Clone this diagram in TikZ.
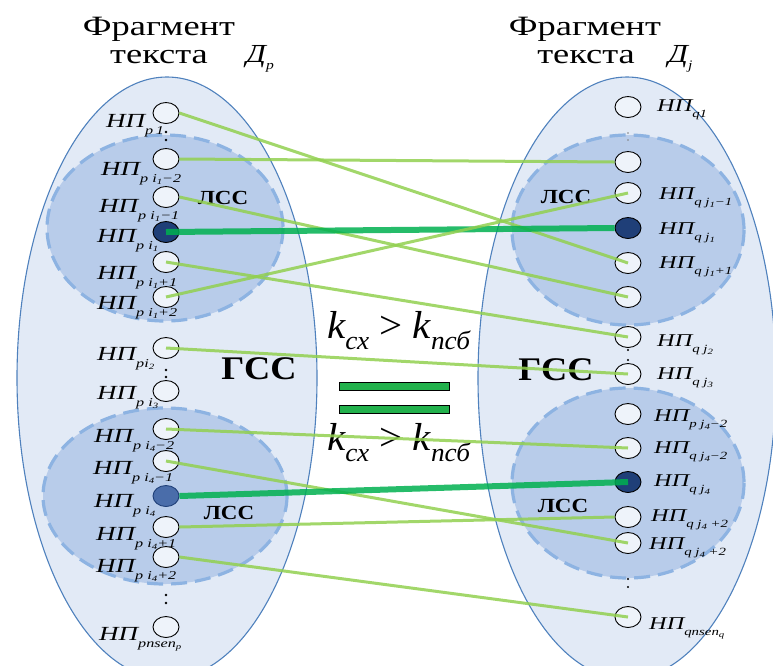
\documentclass[tikz,border=0pt]{standalone}
\usepackage{fontspec}
\usepackage{graphicx}
\setmainfont{Liberation Serif}
\usetikzlibrary{shapes.geometric}
\definecolor{outerfill}{HTML}{E2EAF6}
\definecolor{outerline}{HTML}{4F81BD}
\definecolor{lssfill}{HTML}{B8CCEA}
\definecolor{lssline}{HTML}{8DB3E2}
\definecolor{nodefill}{HTML}{EEF3FA}
\definecolor{darknode}{HTML}{1F3F78}
\definecolor{midnode}{HTML}{4A6DAA}
\definecolor{lightgreen}{HTML}{92D050}
\definecolor{darkgreen}{HTML}{00B050}
\definecolor{barfill}{HTML}{22B14C}
\newcommand\hsc[2]{\scalebox{#1}[1]{#2}}
\newcommand\fs[1]{\fontsize{#1}{#1}\selectfont}
\newcommand\dg[1]{\raisebox{-0.2em}{\fs{8}#1}}
\newcommand\lnp[1]{\hsc{1.35}{\fs{20}\itshape НП\raisebox{-0.35em}{\fs{12}#1}}}
\newcommand\rnp[1]{\hsc{1.35}{\fs{18}\itshape НП\raisebox{-0.35em}{\fs{11}#1}}}
\tikzset{
  outer/.style={fill=outerfill,draw=outerline,line width=1.1pt},
  lss/.style={fill=lssfill,draw=lssline,line width=3.2pt,dash pattern=on 16pt off 8pt},
  np/.style={ellipse,draw=black,line width=0.9pt,fill=nodefill,minimum width=26pt,minimum height=21pt,inner sep=0pt},
  npdark/.style={np,fill=darknode},
  npmid/.style={np,fill=midnode,draw=darknode},
  lab/.style={anchor=base west,inner sep=0pt},
  link/.style={draw=lightgreen,line width=3pt,opacity=0.85},
  strong/.style={draw=darkgreen,line width=6pt,opacity=0.85},
  gss/.style={font=\fs{33}\bfseries,inner sep=0pt},
  lsslab/.style={font=\fs{20}\bfseries,inner sep=0pt},
  bar/.style={rectangle,draw=black,line width=0.6pt,fill=barfill,minimum width=110pt,minimum height=8pt,inner sep=0pt},
  ttl/.style={anchor=base,inner sep=0pt},
  dotc/.style={fill=black},
}
\begin{document}
\begin{tikzpicture}[x=1pt,y=-1pt]
\useasboundingbox (0,0) rectangle (773,665);
\clip (0,0) rectangle (773,665);
% outer ellipses
\draw[outer] (167,378) ellipse [x radius=150, y radius=301];
\draw[outer] (627,378) ellipse [x radius=149, y radius=301];
% LSS regions
\draw[lss] (165,228) ellipse [x radius=118, y radius=93];
\draw[lss] (165,496) ellipse [x radius=122, y radius=88];
\draw[lss] (628,230) ellipse [x radius=116, y radius=95];
\draw[lss] (628,483) ellipse [x radius=116, y radius=95];
% titles
\node[ttl] (t1a) at (159,35) {\hsc{1.3}{\fs{28}Фрагмент}};
\node[ttl] (t1b) at (159,63) {\hsc{1.3}{\fs{28}текста}};
\node[ttl] (t2a) at (585,35) {\hsc{1.3}{\fs{28}Фрагмент}};
\node[ttl] (t2b) at (586,63) {\hsc{1.3}{\fs{28}текста}};
\node[lab] (dp) at (246,62) {\hsc{1.2}{\fs{26}\itshape Д\raisebox{-0.3em}{\fs{13}p}}};
\node[lab] (dj) at (668,62) {\hsc{1.2}{\fs{26}\itshape Д\raisebox{-0.3em}{\fs{13}j}}};
% GSS / LSS labels
\node[gss] (g1) at (259,369) {\hsc{1.1}{ГСС}};
\node[gss] (g2) at (556,370) {\hsc{1.1}{ГСС}};
\node[lsslab] (l1) at (223,198) {\hsc{1.15}{ЛСС}};
\node[lsslab] (l2) at (229,513) {\hsc{1.15}{ЛСС}};
\node[lsslab] (l3) at (566,197) {\hsc{1.15}{ЛСС}};
\node[lsslab] (l4) at (563,506) {\hsc{1.15}{ЛСС}};
% formula
\node[lab] (f1) at (327,338) {\hsc{1.05}{\fs{39}\itshape k\raisebox{-0.3em}{\fs{26}сх} \upshape> \itshape k\raisebox{-0.3em}{\fs{26}псб}}};
\node[lab] (f2) at (327,450) {\hsc{1.05}{\fs{39}\itshape k\raisebox{-0.3em}{\fs{26}сх} \upshape> \itshape k\raisebox{-0.3em}{\fs{26}псб}}};
\node[bar] (bar1) at (394,386) {};
\node[bar] (bar2) at (394,409) {};
% left labels
\node[lab] (a1) at (106,127) {\lnp{p\,1}};
\node[lab] (a2) at (101,175) {\lnp{p i\dg{1}−2}};
\node[lab] (a3) at (99,212) {\lnp{p i\dg{1}−1}};
\node[lab] (a4) at (97,242) {\lnp{p i\dg{1}}};
\node[lab] (a5) at (97,279) {\lnp{p i\dg{1}+1}};
\node[lab] (a6) at (97,309) {\lnp{p i\dg{1}+2}};
\node[lab] (a7) at (97,360) {\lnp{pi\dg{2}}};
\node[lab] (a8) at (97,399) {\lnp{p i\dg{3}}};
\node[lab] (a9) at (94,442) {\lnp{p i\dg{4}−2}};
\node[lab] (a10) at (93,474) {\lnp{p i\dg{4}−1}};
\node[lab] (a11) at (94,507) {\lnp{p i\dg{4}}};
\node[lab] (a12) at (96,540) {\lnp{p i\dg{4}+1}};
\node[lab] (a13) at (96,572) {\lnp{p i\dg{4}+2}};
\node[lab] (a14) at (99,640) {\lnp{pnsen\dg{p}}};
% right labels
\node[lab] (b1) at (657,111) {\rnp{q1}};
\node[lab] (b3) at (659,199) {\rnp{q j\dg{1}−1}};
\node[lab] (b4) at (659,234) {\rnp{q j\dg{1}}};
\node[lab] (b5) at (659,268) {\rnp{q j\dg{1}+1}};
\node[lab] (b7) at (657,346) {\rnp{q j\dg{2}}};
\node[lab] (b8) at (657,379) {\rnp{q j\dg{3}}};
\node[lab] (b9) at (654,421) {\rnp{p j\dg{4}−2}};
\node[lab] (b10) at (654,453) {\rnp{q j\dg{4}−2}};
\node[lab] (b11) at (654,486) {\rnp{q j\dg{4}}};
\node[lab] (b12) at (651,521) {\rnp{q j\dg{4} +2}};
\node[lab] (b13) at (649,549) {\rnp{q j\dg{4} +2}};
\node[lab] (b14) at (649,629) {\rnp{qnsen\dg{q}}};
% left circles
\node[np] (L1) at (166,113) {};
\node[np] (L2) at (166,159) {};
\node[np] (L3) at (166,197) {};
\node[npdark] (L4) at (166,232) {};
\node[np] (L5) at (166,262) {};
\node[np] (L6) at (166,297) {};
\node[np] (L7) at (166,348) {};
\node[np] (L8) at (166,391) {};
\node[np] (L9) at (166,429) {};
\node[np] (L10) at (166,461) {};
\node[npmid] (L11) at (166,496) {};
\node[np] (L12) at (166,527) {};
\node[np] (L13) at (166,557) {};
\node[np] (L14) at (166,627) {};
% right circles
\node[np] (R1) at (628,107) {};
\node[np] (R2) at (628,162) {};
\node[np] (R3) at (628,193) {};
\node[npdark] (R4) at (628,228) {};
\node[np] (R5) at (628,263) {};
\node[np] (R6) at (628,297) {};
\node[np] (R7) at (628,337) {};
\node[np] (R8) at (628,374) {};
\node[np] (R9) at (628,414) {};
\node[np] (R10) at (628,448) {};
\node[npdark] (R11) at (628,482) {};
\node[np] (R12) at (628,517) {};
\node[np] (R13) at (628,543) {};
\node[np] (R14) at (628,617) {};
% vertical dots
\foreach \y in {132,140,370,377,595,603} \fill[dotc] (166,\y) circle (1.3);
\foreach \y in {350,360,579,587} \fill[dotc] (628,\y) circle (1.1);
\foreach \y in {133,140} \fill[gray] (628,\y) circle (0.9);
% links
\draw[link] (L1.east) -- (R5.center);
\draw[link] (L2.east) -- (R2.west);
\draw[link] (L3.east) -- (R6.center);
\draw[strong] (L4.center) -- (R4.west);
\draw[link] (L5.center) -- (R7.center);
\draw[link] (L6.center) -- (R3.center);
\draw[link] (L7.center) -- (R8.center);
\draw[link] (L9.center) -- (R10.center);
\draw[link] (L10.center) -- (R13.center);
\draw[strong] (L11.east) -- (R11.center);
\draw[link] (L12.east) -- (R12.west);
\draw[link] (L13.east) -- (R14.center);
\end{tikzpicture}
\end{document}
